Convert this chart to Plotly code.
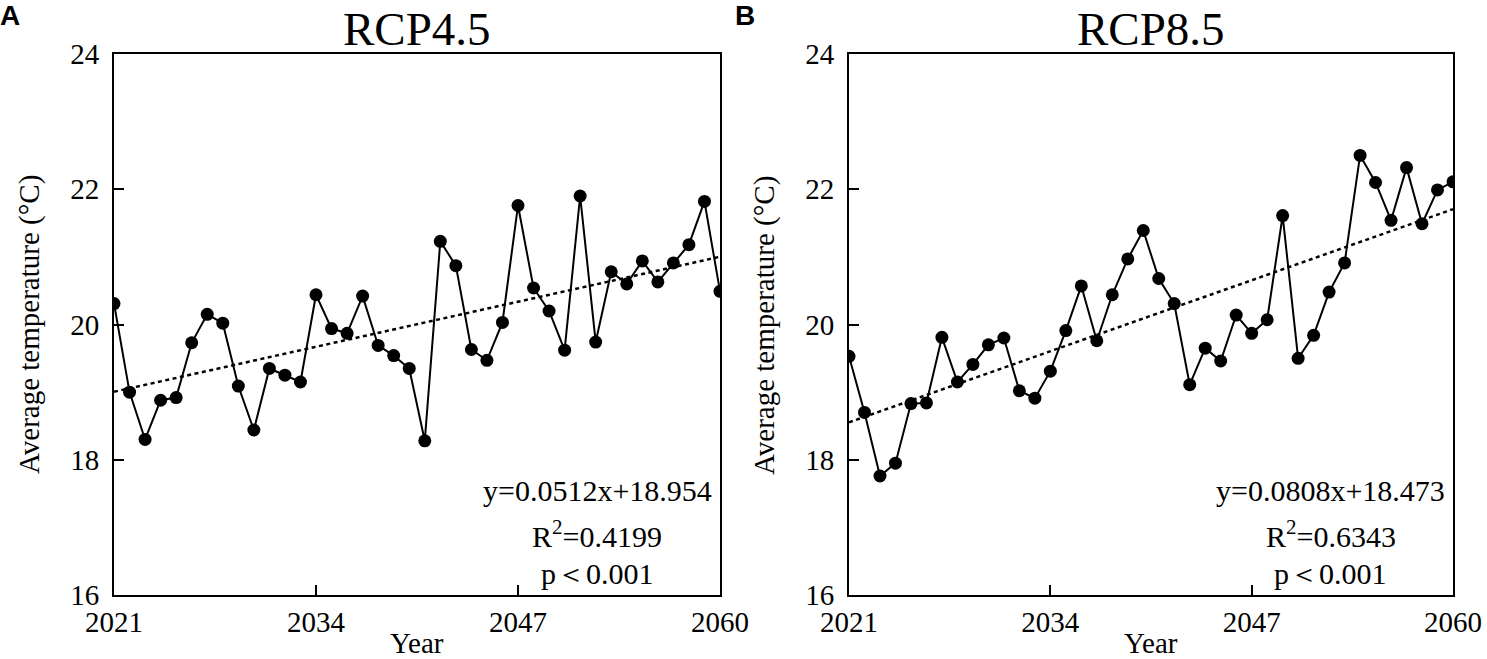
import plotly.graph_objects as go

years = list(range(2021, 2061))
rcp45 = [20.31, 19.00, 18.30, 18.88, 18.92, 19.73, 20.15, 20.02, 19.09, 18.44,
         19.35, 19.25, 19.15, 20.44, 19.94, 19.87, 20.42, 19.69, 19.54, 19.35,
         18.28, 21.23, 20.87, 19.63, 19.47, 20.03, 21.76, 20.54, 20.20, 19.62,
         21.90, 19.74, 20.78, 20.60, 20.94, 20.63, 20.91, 21.18, 21.82, 20.49]
rcp85 = [19.53, 18.70, 17.76, 17.95, 18.83, 18.84, 19.81, 19.15, 19.41, 19.70,
         19.80, 19.02, 18.91, 19.31, 19.91, 20.57, 19.76, 20.44, 20.97, 21.39,
         20.68, 20.31, 19.11, 19.65, 19.46, 20.14, 19.87, 20.07, 21.61, 19.50,
         19.84, 20.48, 20.91, 22.50, 22.10, 21.54, 22.32, 21.49, 21.99, 22.11]

panel_titles = ["RCP4.5", "RCP8.5"]
panel_letters = ["A", "B"]
fit_slope = [0.0512, 0.0808]
fit_intercept = [18.954, 18.473]
r2_text = ["0.4199", "0.6343"]
eq_text = ["y=0.0512x+18.954", "y=0.0808x+18.473"]
x_ticks = [2021, 2034, 2047, 2060]
y_ticks = [16, 18, 20, 22, 24]

W, H = 1487, 659
SERIF = "Liberation Serif"

fig = go.Figure()

series = [rcp45, rcp85]
for i, vals in enumerate(series):
    xa = "x" if i == 0 else "x2"
    ya = "y" if i == 0 else "y2"
    fig.add_trace(go.Scatter(
        x=years, y=vals, mode="lines+markers", xaxis=xa, yaxis=ya,
        line=dict(color="black", width=2),
        marker=dict(color="black", size=13),
        showlegend=False,
    ))
    # fitted trend line from the displayed regression equation (x = 1..40)
    n0, n1 = 1, len(years)
    fig.add_trace(go.Scatter(
        x=[years[0], years[-1]],
        y=[fit_slope[i] * n0 + fit_intercept[i], fit_slope[i] * n1 + fit_intercept[i]],
        mode="lines", xaxis=xa, yaxis=ya,
        line=dict(color="black", width=2.5, dash="4px,3.5px"),
        showlegend=False,
    ))

# plot boxes in page pixels
boxes = [(114, 720), (849, 1453)]
top_px, bot_px = 54, 595

def px_x(p):
    return p / W

def px_y(p):
    return (H - p) / H

axis_common = dict(
    showline=True, linecolor="black", linewidth=2, mirror=True,
    ticks="inside", ticklen=10, tickwidth=2, tickcolor="black",
    showgrid=False, zeroline=False, automargin=False,
    tickfont=dict(family=SERIF, size=29, color="black"),
)

for i, (l, r) in enumerate(boxes):
    sx = "" if i == 0 else "2"
    fig.update_layout(**{
        f"xaxis{sx}": dict(
            domain=[px_x(l), px_x(r)], range=[2021, 2060],
            tickvals=x_ticks, anchor=f"y{sx}", ticklabelstandoff=0,
            **axis_common),
        f"yaxis{sx}": dict(
            domain=[px_y(bot_px), px_y(top_px)], range=[16, 24],
            tickvals=y_ticks, anchor=f"x{sx}", ticklabelstandoff=7,
            **axis_common),
    })

annotations = []
for i, (l, r) in enumerate(boxes):
    cx = (l + r) / 2
    xr = "x" if i == 0 else "x2"
    yr = "y" if i == 0 else "y2"
    # title
    annotations.append(dict(
        text=panel_titles[i], x=px_x(cx), y=px_y(29), xref="paper", yref="paper",
        xanchor="center", yanchor="middle", showarrow=False,
        font=dict(family=SERIF, size=47, color="black")))
    # panel letter
    annotations.append(dict(
        text=f"<b>{panel_letters[i]}</b>", x=px_x(l - 104), y=px_y(16),
        xref="paper", yref="paper", xanchor="center", yanchor="middle",
        showarrow=False, font=dict(family="Liberation Sans", size=28, color="black")))
    # y axis title
    annotations.append(dict(
        text="Average temperature (°C)", x=px_x(l - 85), y=px_y(325),
        xref="paper", yref="paper", xanchor="center", yanchor="middle",
        textangle=-90, showarrow=False,
        font=dict(family=SERIF, size=29, color="black")))
    # x axis title
    annotations.append(dict(
        text="Year", x=px_x(cx), y=px_y(643), xref="paper", yref="paper",
        xanchor="center", yanchor="middle", showarrow=False,
        font=dict(family=SERIF, size=29, color="black")))
    # statistics
    stat_lines = [eq_text[i], f"R<sup>2</sup>={r2_text[i]}", "p＜0.001"]
    stat_y = [17.55, 16.9, 16.32]
    for t, yy in zip(stat_lines, stat_y):
        annotations.append(dict(
            text=t, x=2052.1, y=yy, xref=xr, yref=yr,
            xanchor="center", yanchor="middle", showarrow=False,
            font=dict(family=SERIF, size=30, color="black")))

fig.update_layout(
    width=W, height=H,
    margin=dict(l=0, r=0, t=0, b=0),
    paper_bgcolor="white", plot_bgcolor="white",
    annotations=annotations,
)

fig.write_html(
    "out.html",
    config={"displayModeBar": False},
    post_script="document.body.style.margin='0px';document.body.style.overflow='hidden';",
)
